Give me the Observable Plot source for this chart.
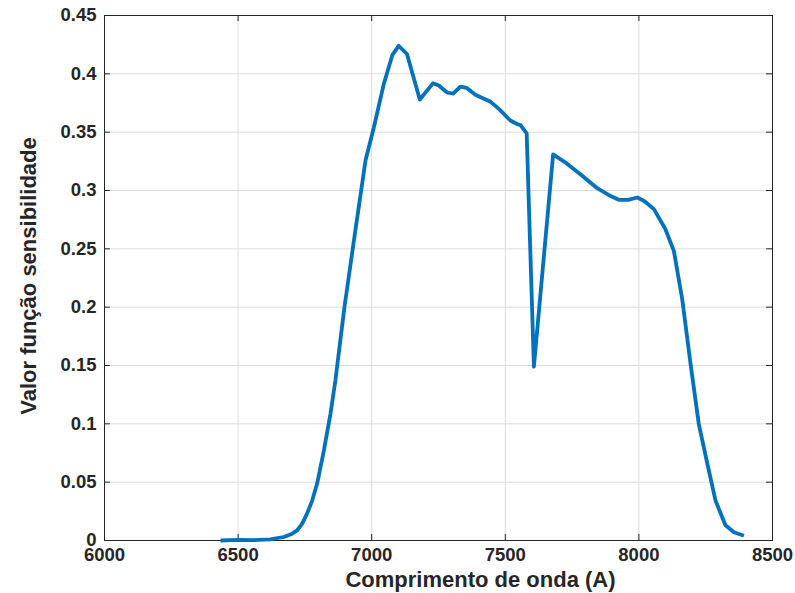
<!DOCTYPE html>
<html>
<head>
<meta charset="utf-8">
<script src="https://cdn.jsdelivr.net/npm/d3@7"></script>
<script src="https://cdn.jsdelivr.net/npm/@observablehq/plot@0.6"></script>
<style>
  html, body { margin: 0; padding: 0; background: #fff; }
  #chart { width: 795px; height: 593px; }
</style>
</head>
<body>
<div id="chart"></div>
<script>
// Wavelength (Å) and sensitivity-function values
const wavelength = [6434, 6500, 6560, 6620, 6671, 6700, 6721, 6740, 6758, 6777, 6796, 6821, 6846, 6864, 6898, 6939, 6977, 7008, 7045, 7077, 7101, 7132, 7180, 7230, 7251, 7282, 7305, 7332, 7355, 7388, 7445, 7476, 7519, 7544, 7557, 7580, 7607, 7679, 7731, 7781, 7844, 7888, 7925, 7960, 7994, 8020, 8056, 8099, 8131, 8162, 8193, 8224, 8256, 8287, 8324, 8356, 8393];
const sensitivity = [0, 0.0005, 0.0003, 0.001, 0.003, 0.0055, 0.0086, 0.0145, 0.023, 0.034, 0.049, 0.077, 0.109, 0.137, 0.2, 0.266, 0.326, 0.354, 0.391, 0.416, 0.424, 0.417, 0.378, 0.392, 0.390, 0.384, 0.383, 0.389, 0.388, 0.382, 0.376, 0.370, 0.360, 0.357, 0.356, 0.349, 0.149, 0.331, 0.323, 0.314, 0.302, 0.296, 0.292, 0.292, 0.294, 0.291, 0.284, 0.267, 0.248, 0.207, 0.152, 0.100, 0.066, 0.034, 0.013, 0.007, 0.004];

const xTicks = [6000, 6500, 7000, 7500, 8000, 8500];
const yTicks = [0, 0.05, 0.1, 0.15, 0.2, 0.25, 0.3, 0.35, 0.4, 0.45];
const yTickLabels = ["0", "0.05", "0.1", "0.15", "0.2", "0.25", "0.3", "0.35", "0.4", "0.45"];
const xLabel = "Comprimento de onda (A)";
const yLabel = "Valor função sensibilidade";

const data = wavelength.map((w, i) => ({w, v: sensitivity[i]}));

const xMin = 6000, xMax = 8500, yMin = 0, yMax = 0.45;
const tickLenX = 22;     // in x data units (~6px)
const tickLenY = 0.0052; // in y data units (~6px)

const textColor = "#262626";

const chart = Plot.plot({
  width: 795,
  height: 593,
  marginLeft: 104,
  marginRight: 23,
  marginTop: 15,
  marginBottom: 53,
  style: {fontFamily: "'Liberation Sans', Arial, Helvetica, sans-serif", fontSize: "18.5px", fontWeight: "bold", color: textColor, background: "#fff"},
  x: {domain: [xMin, xMax]},
  y: {domain: [yMin, yMax]},
  marks: [
    Plot.ruleX(xTicks, {x: d => d, stroke: "#dcdcdc", strokeWidth: 1}),
    Plot.ruleY(yTicks, {y: d => d, stroke: "#dcdcdc", strokeWidth: 1}),
    // inward ticks on all four sides
    Plot.ruleX(xTicks, {x: d => d, y1: yMin, y2: yMin + tickLenY, stroke: textColor}),
    Plot.ruleX(xTicks, {x: d => d, y1: yMax, y2: yMax - tickLenY, stroke: textColor}),
    Plot.ruleY(yTicks, {y: d => d, x1: xMin, x2: xMin + tickLenX, stroke: textColor}),
    Plot.ruleY(yTicks, {y: d => d, x1: xMax, x2: xMax - tickLenX, stroke: textColor}),
    Plot.frame({stroke: textColor, strokeWidth: 1}),
    Plot.line(data, {x: "w", y: "v", stroke: "#0072BD", strokeWidth: 3.8, strokeLinejoin: "round", strokeLinecap: "butt", curve: "linear"}),
    Plot.axisX(xTicks, {tickSize: 0, tickPadding: 7, label: null, tickFormat: d => String(d), fill: textColor}),
    Plot.axisY(yTicks, {tickSize: 0, tickPadding: 8, label: null, tickFormat: (d, i) => yTickLabels[i], fill: textColor}),
    Plot.text([xLabel], {frameAnchor: "bottom", dx: 42, dy: 39, lineAnchor: "middle", textAnchor: "middle", fontSize: 22, fontWeight: "bold", fill: textColor}),
    Plot.text([yLabel], {frameAnchor: "left", dx: -76, dy: -2, rotate: -90, lineAnchor: "middle", textAnchor: "middle", fontSize: 22, fontWeight: "bold", fill: textColor})
  ]
});
document.getElementById("chart").appendChild(chart);
</script>
</body>
</html>
